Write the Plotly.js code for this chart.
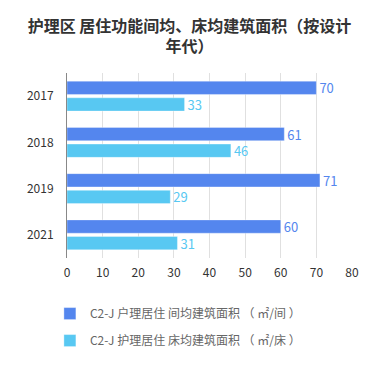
<!DOCTYPE html>
<html>
<head>
<meta charset="utf-8">
<script src="https://cdn.plot.ly/plotly-3.0.1.min.js"></script>
<style>html,body{margin:0;padding:0;background:#fff;}#chart{width:379px;height:372px;}</style>
</head>
<body>
<div id="chart"></div>
<script>
const years = ['2017', '2018', '2019', '2021'];
const roomArea = [70, 61, 71, 60];
const bedArea = [33, 46, 29, 31];
const seriesNames = ['C2-J 户理居住 间均建筑面积 （ ㎡/间 ）', 'C2-J 护理居住 床均建筑面积 （ ㎡/床 ）'];
const xTicks = [0, 10, 20, 30, 40, 50, 60, 70, 80];

const FONT = '"Noto Sans CJK SC", "Noto Sans", sans-serif';
const colors = ['#5486EE', '#58C8F2'];

function barTrace(vals, i) {
  return {
    type: 'bar', orientation: 'h',
    y: years, x: vals, name: seriesNames[i],
    legendgroup: 'g' + i,
    marker: {color: colors[i], line: {color: 'rgba(255,255,255,0.35)', width: 1}},
    text: vals.map(String), textposition: 'outside', cliponaxis: false,
    constraintext: 'none',
    textfont: {family: FONT, size: 13, color: colors[i]},
    hoverinfo: 'x+y'
  };
}

const data = [barTrace(roomArea, 0), barTrace(bedArea, 1)];

const layout = {
  width: 379, height: 372,
  margin: {l: 67, r: 27, t: 73, b: 114},
  paper_bgcolor: '#fff', plot_bgcolor: '#fff',
  font: {family: FONT, color: '#333'},
  title: {
    text: '护理区 居住功能间均、床均建筑面积（按设计<br>年代）',
    font: {family: FONT, size: 16, color: '#333', weight: 'bold'},
    x: 0.5, xanchor: 'center', xref: 'container',
    y: 0.915, yanchor: 'top', yref: 'container'
  },
  barmode: 'group', bargap: 0.28, bargroupgap: 0.2,
  xaxis: {
    range: [0, 80], tickvals: xTicks, ticktext: xTicks.map(String),
    showgrid: true, gridcolor: '#e0e0e0', gridwidth: 1,
    zeroline: false, showline: false, ticks: '',
    tickfont: {family: FONT, size: 12, color: '#333'},
    ticklabelstandoff: 6, fixedrange: true
  },
  yaxis: {
    type: 'category', categoryorder: 'array', categoryarray: years,
    autorange: 'reversed',
    showline: true, linecolor: '#888', linewidth: 1,
    showgrid: false, ticks: '',
    tickfont: {family: FONT, size: 12, color: '#333'},
    ticklabelstandoff: 10, fixedrange: true
  },
  showlegend: true,
  legend: {
    orientation: 'v', x: -0.06, xanchor: 'left', y: -0.222, yanchor: 'top',
    traceorder: 'grouped', tracegroupgap: 8,
    font: {family: FONT, size: 12, color: '#666'},
    bgcolor: 'rgba(0,0,0,0)'
  }
};

Plotly.newPlot('chart', data, layout, {displayModeBar: false, staticPlot: true});
</script>
</body>
</html>
